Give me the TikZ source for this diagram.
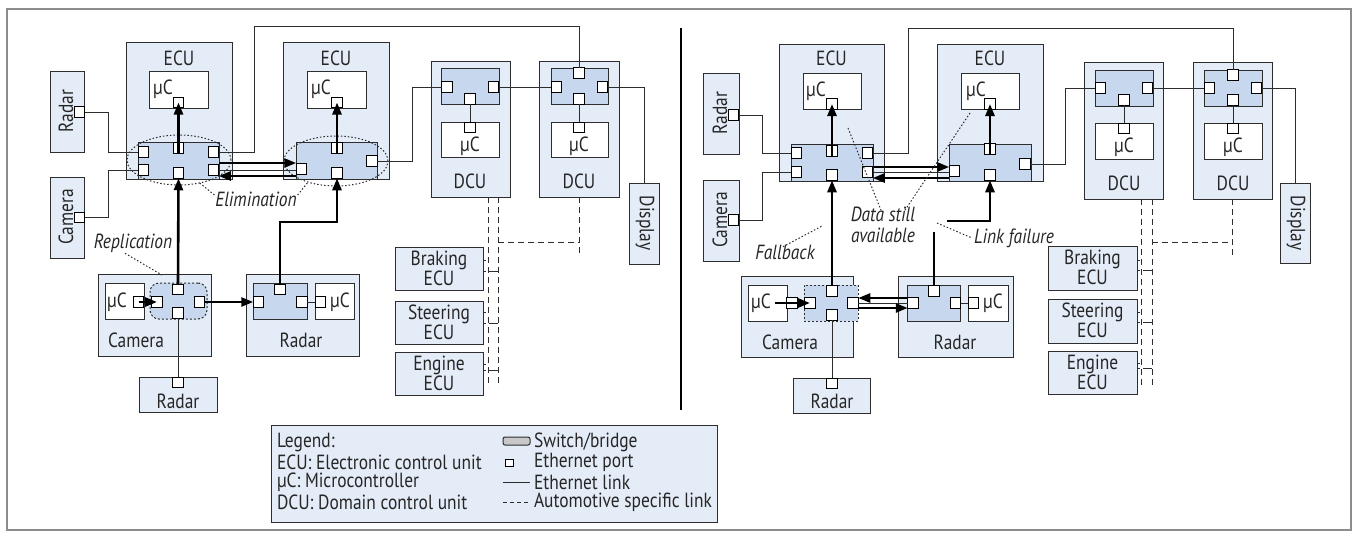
\documentclass[tikz,border=0pt]{standalone}
\usepackage{fontspec}
\setmainfont{PT Sans}[FakeStretch=0.85]
\usetikzlibrary{arrows.meta,shapes.geometric,calc}
\definecolor{ecufill}{RGB}{228,236,247}
\definecolor{swfill}{RGB}{198,215,238}
\definecolor{framec}{RGB}{140,140,140}
\definecolor{edge}{RGB}{45,45,45}
\definecolor{legsw}{RGB}{200,200,200}
\newcommand\mkbox[7]{\node[#1, anchor=north west, minimum width={(#5-#3)*1pt}, minimum height={(#6-#4)*1pt}] (#2) at (#3,#4) {#7};}
\newcommand\mkport[3]{\node[port] (#1) at (#2,#3) {};}
\begin{document}
\begin{tikzpicture}[x=1pt,y=-1pt,
  every node/.style={outer sep=0pt},
  txt/.style={font=\fontsize{20.5}{20}\selectfont, inner sep=0pt, align=center, text=black!85},
  itx/.style={font=\fontsize{20.5}{21}\selectfont\itshape, inner sep=0pt, align=center, text=black!85},
  box/.style={draw=edge, fill=ecufill, line width=1pt, inner sep=0pt},
  sw/.style={draw=edge, fill=swfill, line width=1pt, inner sep=0pt},
  ucbox/.style={draw=edge, fill=white, line width=1pt, inner sep=0pt},
  swdot/.style={draw=edge, fill=swfill, line width=1pt, dash pattern=on 2pt off 2pt, inner sep=0pt},
  port/.style={draw=black, fill=white, line width=0.9pt, minimum size=10.5pt, inner sep=0pt},
  link/.style={draw=edge, line width=1pt},
  fat/.style={line width=2.6pt},
  flow/.style={fat, -{Triangle[length=12pt,width=9pt]}},
  autolink/.style={draw=edge, line width=1pt, dash pattern=on 6pt off 4pt},
  note/.style={draw=edge, line width=1pt, dash pattern=on 1.5pt off 2pt},
]
\useasboundingbox (0,0) rectangle (1355,536);
\node[draw=framec, line width=1.5pt, anchor=north west, minimum width=1344pt, minimum height=521pt, inner sep=0pt] (frame) at (7,9) {};
\coordinate (divtop) at (681,28);
\coordinate (divbot) at (681,410);
\draw[line width=2pt] (divtop) -- (divbot);

%%%%%%%%%%%%%%%% LEFT %%%%%%%%%%%%%%%%
% ECU 1
\mkbox{box}{ecuA}{126}{42}{232}{179}{}
\node[txt] (ecuAt) at (179,58) {ECU};
\mkbox{ucbox}{ucA}{149}{71}{208}{108}{}
\node[txt] (ucAt) at (163,89) {μC};
\mkport{ucAp}{178.5}{102.5}
\mkbox{sw}{swA}{138}{142}{219}{179}{}
\mkport{s1a}{143.5}{152}
\mkport{s1b}{143.5}{170}
\mkport{s1t}{178.5}{148}
\mkport{s1d}{178.5}{173}
\mkport{s1c}{213.5}{152}
\mkport{s1e}{213.5}{170}
% ECU 2
\mkbox{box}{ecuB}{283}{42}{389}{179}{}
\node[txt] (ecuBt) at (336,58) {ECU};
\mkbox{ucbox}{ucB}{307}{71}{366}{108}{}
\node[txt] (ucBt) at (321,89) {μC};
\mkport{ucBp}{337}{102.5}
\mkbox{sw}{swB}{296}{142}{377}{179}{}
\mkport{s2l}{301.5}{169}
\mkport{s2t}{337}{148}
\mkport{s2d}{337}{173}
\mkport{s2r}{372}{161}
% ellipses
\node[ellipse, note, minimum width=104pt, minimum height=50pt, inner sep=0pt] (elA) at (179,160) {};
\node[ellipse, note, minimum width=104pt, minimum height=50pt, inner sep=0pt] (elB) at (336,161) {};
\node[itx] (elim) at (256,199) {Elimination};
\draw[note] ([xshift=-1pt,yshift=4pt]elim.west) -- (elA.-48);
\draw[note] ([xshift=1pt,yshift=4pt]elim.east) -- (elB.-143);
% side radar / camera
\mkbox{box}{lradar}{50}{71}{84}{152}{}
\node[txt, rotate=90] (lradart) at (66,111) {Radar};
\mkport{lradarp}{79.5}{112}
\mkbox{box}{lcam}{50}{177}{84}{258}{}
\node[txt, rotate=90] (lcamt) at (66,217) {Camera};
\mkport{lcamp}{79.5}{217.5}
\draw[link] (lradarp.east) -- (108,112) |- (s1a.west);
\draw[link] (lcamp.east) -- (108,217.5) |- (s1b.west);
% camera device
\mkbox{box}{camA}{98}{274}{211}{356}{}
\node[txt] (camAt) at (136,340) {Camera};
\mkbox{ucbox}{camAuc}{105}{283}{144}{319}{}
\node[txt] (camAuct) at (117,302) {μC};
\mkport{camAup}{138.5}{302}
\mkbox{swdot, rounded corners=9pt}{csA}{150}{283}{207}{319}{}
\mkport{csAl}{157}{302}
\mkport{csAt}{178}{289.5}
\mkport{csAr}{199.5}{302}
\mkport{csAd}{178}{313}
\node[itx] (repl) at (133,243) {Replication};
\coordinate (replend) at (162,275);
\draw[note] ([xshift=-8pt,yshift=-1pt]repl.south) -- (replend);
% radar device
\mkbox{box}{radA}{246}{274}{359}{356}{}
\node[txt] (radAt) at (301,340) {Radar};
\mkbox{sw}{rsA}{253}{283}{307}{319}{}
\mkport{rsAl}{258.5}{302}
\mkport{rsAt}{280}{289.5}
\mkport{rsAr}{302}{302}
\mkbox{ucbox}{radAuc}{315}{283}{354}{319}{}
\node[txt] (radAuct) at (340,302) {μC};
\mkport{radAup}{320.5}{302}
\draw[link] (rsAr.east) -- (radAup.west);
% radar below
\mkbox{box}{rbA}{139}{377}{217}{412}{}
\node[txt] (rbAt) at (178,401) {Radar};
\mkport{rbAp}{178}{382.5}
\draw[link] (csAd.south) -- (rbAp.north);
% flows
\draw[link] (s1t.north) -- (ucAp.south);
\draw[flow] ([yshift=-10pt]s1t.north) -- (ucAp.center);
\draw[link] (s2t.north) -- (ucBp.south);
\draw[flow] ([yshift=-10pt]s2t.north) -- (ucBp.center);
\draw[link] (s1e.east) -- (s1e.east -| s2l.west);
\draw[flow] ([yshift=7pt]s1e.east) -- ([yshift=7pt]s1e.east -| s2l.west);
\draw[flow] ([yshift=-6pt]s1e.east -| s2l.west) -- ([yshift=-6pt]s1e.east);
\draw[flow] (csAt.north) -- (s1d.south);
\draw[flow] (camAup.center) -- (csAl.center);
\draw[flow] (csAr.east) -- (rsAl.west);
\draw[flow] (rsAt.north) -- (280,222) -| (s2d.south);
% DCUs
\mkbox{box}{dcuA}{431}{61}{510}{197}{}
\mkbox{sw}{dswA}{441}{68}{499}{104}{}
\mkport{d1l}{447}{87}
\mkport{d1r}{493.5}{87}
\mkport{d1d}{470}{99}
\mkbox{ucbox}{ducA}{441}{122}{499}{157}{}
\mkport{d1up}{470}{127.5}
\node[txt] (ducAt) at (470,146) {μC};
\node[txt] (dcuAt) at (470,181) {DCU};
\mkbox{box}{dcuB}{539}{61}{619}{197}{}
\mkbox{sw}{dswB}{551}{68}{608}{104}{}
\mkport{d2t}{579}{73}
\mkport{d2l}{556.5}{87}
\mkport{d2r}{602.5}{87}
\mkport{d2d}{579}{99}
\mkbox{ucbox}{ducB}{551}{122}{608}{157}{}
\mkport{d2up}{579}{127.5}
\node[txt] (ducBt) at (579,146) {μC};
\node[txt] (dcuBt) at (579,181) {DCU};
\draw[link] (d1d.south) -- (d1up.north);
\draw[link] (d2d.south) -- (d2up.north);
\draw[link] (d1r.east) -- (d2l.west);
\draw[link] (s2r.east) -- (412,161) |- (d1l.west);
\draw[link] (s1c.east) -| (254,26) -| (d2t.north);
% display
\mkbox{box}{dispA}{629}{183}{659}{264}{}
\node[txt, rotate=-90] (dispAt) at (645,223) {Display};
\draw[link] (d2r.east) -| (dispA.north);
% automotive links
\draw[autolink] ([xshift=17.5pt]dcuA.south) -- ++(0,190);
\draw[autolink] ([xshift=27.5pt]dcuA.south) -- ++(0,190);
\draw[autolink] (dcuB.south) -- ++(0,56);
\draw[autolink] (498,242) -- (579,242);
\mkbox{box}{brkA}{395}{247}{483}{290}{}
\node[txt] (brkAt) at (439,268) {Braking\\ECU};
\mkbox{box}{steA}{395}{301}{483}{344}{}
\node[txt] (steAt) at (439,322) {Steering\\ECU};
\mkbox{box}{engA}{395}{352}{483}{395}{}
\node[txt] (engAt) at (439,373) {Engine\\ECU};
\draw[autolink, dash pattern=on 3pt off 2pt] ([yshift=8.5pt]brkA.east) -- ++(5,0);
\draw[autolink, dash pattern=on 3pt off 3pt on 7pt off 0pt] ([yshift=-2.5pt]brkA.east) -- ++(15,0);
\draw[autolink, dash pattern=on 3pt off 2pt] ([yshift=10.5pt]steA.east) -- ++(5,0);
\draw[autolink, dash pattern=on 3pt off 3pt on 7pt off 0pt] ([yshift=-0.5pt]steA.east) -- ++(15,0);
\draw[autolink, dash pattern=on 3pt off 2pt] ([yshift=9.5pt]engA.east) -- ++(5,0);
\draw[autolink, dash pattern=on 3pt off 3pt on 7pt off 0pt] ([yshift=3.5pt]engA.east) -- ++(15,0);

%%%%%%%%%%%%%%%% RIGHT %%%%%%%%%%%%%%%%
\mkbox{box}{ecuC}{779}{44}{884}{181}{}
\node[txt] (ecuCt) at (831.5,58) {ECU};
\mkbox{ucbox}{ucC}{803}{73}{861}{109}{}
\node[txt] (ucCt) at (816,91) {μC};
\mkport{ucCp}{832}{104}
\mkbox{sw}{swC}{791}{144}{873}{181}{}
\mkport{s3a}{796.5}{153}
\mkport{s3b}{796.5}{172}
\mkport{s3t}{832}{151}
\mkport{s3d}{832}{175}
\mkport{s3c}{867.5}{153}
\mkport{s3e}{867.5}{172}
\mkbox{box}{ecuD}{937}{44}{1043}{181}{}
\node[txt] (ecuDt) at (990,58) {ECU};
\mkbox{ucbox}{ucD}{961}{73}{1019}{109}{}
\node[txt] (ucDt) at (976,91) {μC};
\mkport{ucDp}{990}{104}
\mkbox{sw}{swD}{949}{144}{1031}{181}{}
\mkport{s4l}{954.5}{171}
\mkport{s4t}{990}{149}
\mkport{s4d}{990}{175}
\mkport{s4r}{1025}{164}
% side radar / camera
\mkbox{box}{rradar}{703}{73}{739}{154}{}
\node[txt, rotate=90] (rradart) at (720,113) {Radar};
\mkport{rradarp}{733.5}{115}
\mkbox{box}{rcam}{703}{180}{739}{261}{}
\node[txt, rotate=90] (rcamt) at (720,220) {Camera};
\mkport{rcamp}{733.5}{220}
\draw[link] (rradarp.east) -- (762,115) |- (s3a.west);
\draw[link] (rcamp.east) -- (762,220) |- (s3b.west);
% camera device
\mkbox{box}{camC}{741}{276}{853}{357}{}
\node[txt] (camCt) at (790,342) {Camera};
\mkbox{ucbox}{camCuc}{748}{285}{787}{321}{}
\node[txt] (camCuct) at (761,303) {μC};
\mkport{camCup}{792}{303}
\mkbox{swdot}{csC}{804}{285}{858}{321}{}
\mkport{csCl}{810}{303}
\mkport{csCt}{832}{291}
\mkport{csCr}{853}{303}
\mkport{csCd}{832}{315}
% radar device
\mkbox{box}{radC}{898}{276}{1013}{357}{}
\node[txt] (radCt) at (955,342) {Radar};
\mkbox{sw}{rsC}{907}{285}{960}{321}{}
\mkport{rsCl}{913}{303}
\mkport{rsCt}{934}{291}
\mkport{rsCr}{955.5}{303}
\mkbox{ucbox}{radCuc}{968}{285}{1008}{321}{}
\node[txt] (radCuct) at (993,303) {μC};
\mkport{radCup}{973.5}{303}
\draw[link] (rsCr.east) -- (radCup.west);
% radar below
\mkbox{box}{rbC}{793}{378}{870}{413}{}
\node[txt] (rbCt) at (832,401) {Radar};
\mkport{rbCp}{832}{383.5}
\draw[link] (csCd.south) -- (rbCp.north);
% flows
\draw[link] (s3t.north) -- (ucCp.south);
\draw[flow] ([yshift=-10pt]s3t.north) -- (ucCp.center);
\draw[link] (s4t.north) -- (ucDp.south);
\draw[flow] ([yshift=-10pt]s4t.north) -- (ucDp.center);
\draw[link] (s3e.east) -- (s3e.east -| s4l.west);
\draw[flow] ([yshift=5pt]s3e.east) -- ([yshift=5pt]s3e.east -| s4l.west);
\draw[flow] ([yshift=-6pt]s3e.east -| s4l.west) -- ([yshift=-6pt]s3e.east);
\draw[flow] (csCt.north) -- (s3d.south);
\draw[flow] ([xshift=-17pt]camCup.center) -- (csCl.center);
\draw[link] (csCr.east) -- (rsCl.west);
\draw[flow] ([yshift=5pt]rsCl.west) -- ([yshift=5pt]csCr.east);
\draw[flow] ([yshift=-5pt]csCr.east) -- ([yshift=-5pt]rsCl.west);
\coordinate (lfa) at (947,221);
\coordinate (lfb) at (934,232);
\draw[flow] (lfa) -| (s4d.south);
\draw[fat] (lfb) -- (rsCt.north);
% DCUs
\mkbox{box}{dcuC}{1084}{62}{1163}{199}{}
\mkbox{sw}{dswC}{1095}{70}{1153}{106}{}
\mkport{d3l}{1100.5}{88}
\mkport{d3r}{1147.5}{88}
\mkport{d3d}{1124}{100}
\mkbox{ucbox}{ducC}{1095}{123}{1153}{159}{}
\mkport{d3up}{1124}{128.5}
\node[txt] (ducCt) at (1124,147) {μC};
\node[txt] (dcuCt) at (1124,183) {DCU};
\mkbox{box}{dcuD}{1193}{62}{1272}{199}{}
\mkbox{sw}{dswD}{1204}{70}{1262}{106}{}
\mkport{d4t}{1233}{75}
\mkport{d4l}{1209.5}{88}
\mkport{d4r}{1256.5}{88}
\mkport{d4d}{1233}{100}
\mkbox{ucbox}{ducD}{1204}{123}{1262}{159}{}
\mkport{d4up}{1233}{128.5}
\node[txt] (ducDt) at (1233,147) {μC};
\node[txt] (dcuDt) at (1233,183) {DCU};
\draw[link] (d3d.south) -- (d3up.north);
\draw[link] (d4d.south) -- (d4up.north);
\draw[link] (d3r.east) -- (d4l.west);
\draw[link] (s4r.east) -- (1065,164) |- (d3l.west);
\draw[link] (s3c.east) -| (908,28) -| (d4t.north);
\mkbox{box}{dispC}{1280}{183}{1310}{263}{}
\node[txt, rotate=-90] (dispCt) at (1296,223) {Display};
\draw[link] (d4r.east) -| (dispC.north);
\draw[autolink] ([xshift=17.5pt]dcuC.south) -- ++(0,189);
\draw[autolink] ([xshift=28.5pt]dcuC.south) -- ++(0,189);
\draw[autolink] (dcuD.south) -- ++(0,57);
\draw[autolink] (1152,242) -- (1233,242);
\mkbox{box}{brkC}{1048}{246}{1137}{290}{}
\node[txt] (brkCt) at (1092.5,267) {Braking\\ECU};
\mkbox{box}{steC}{1048}{299}{1137}{343}{}
\node[txt] (steCt) at (1092.5,320) {Steering\\ECU};
\mkbox{box}{engC}{1048}{351}{1137}{394}{}
\node[txt] (engCt) at (1092.5,372) {Engine\\ECU};
\draw[autolink, dash pattern=on 3pt off 2pt] ([yshift=8pt]brkC.east) -- ++(4,0);
\draw[autolink, dash pattern=on 3pt off 3pt on 7pt off 0pt] ([yshift=-2pt]brkC.east) -- ++(15,0);
\draw[autolink, dash pattern=on 3pt off 2pt] ([yshift=9pt]steC.east) -- ++(4,0);
\draw[autolink, dash pattern=on 3pt off 3pt on 7pt off 0pt] ([yshift=-1pt]steC.east) -- ++(15,0);
\draw[autolink, dash pattern=on 3pt off 2pt] ([yshift=9.5pt]engC.east) -- ++(4,0);
\draw[autolink, dash pattern=on 3pt off 3pt on 7pt off 0pt] ([yshift=4pt]engC.east) -- ++(15,0);
% annotations
\node[itx] (data) at (883,225) {Data still\\available};
\coordinate (dA) at (848,128);
\coordinate (dB) at (970,113);
\draw[note] (dA) -- ([xshift=-2pt,yshift=-3pt]data.north);
\draw[note] (dB) -- ([xshift=22pt,yshift=-3pt]data.north);
\node[itx] (lfail) at (1014,238) {Link failure};
\coordinate (lfc) at (937,223);
\draw[note] (lfc) -- ([xshift=-2pt]lfail.west);
\node[itx] (fallb) at (785,252) {Fallback};
\coordinate (fbc) at (822,226);
\draw[note] ([xshift=-2pt,yshift=-2pt]fallb.north) -- (fbc);

%%%%%%%%%%%%%%%% LEGEND %%%%%%%%%%%%%%%%
\mkbox{box}{legend}{271}{425}{717}{522}{}
\node[txt, anchor=west] (lg1) at (277,442) {Legend:};
\node[txt, anchor=west] (lg2) at (277,462) {ECU: Electronic control unit};
\node[txt, anchor=west] (lg3) at (277,482) {μC: Microcontroller};
\node[txt, anchor=west] (lg4) at (277,502) {DCU: Domain control unit};
\mkbox{draw=edge, fill=legsw, line width=1pt, rounded corners=2pt, inner sep=0pt}{lgsw}{503}{437}{530}{445}{}
\node[draw=black, fill=white, line width=0.9pt, minimum width=8pt, minimum height=6.5pt, inner sep=0pt] (lgport) at (509.5,463) {};
\coordinate (lgla) at (503,482);
\coordinate (lglb) at (530,482);
\draw[link] (lgla) -- (lglb);
\coordinate (lgaa) at (503,502);
\coordinate (lgab) at (530,502);
\draw[autolink, dash pattern=on 4pt off 3pt] (lgaa) -- (lgab);
\node[txt, anchor=west] (lg5) at (534,442) {Switch/bridge};
\node[txt, anchor=west] (lg6) at (534,462) {Ethernet port};
\node[txt, anchor=west] (lg7) at (534,482) {Ethernet link};
\node[txt, anchor=west] (lg8) at (534,502) {Automotive specific link};
\end{tikzpicture}
\end{document}
